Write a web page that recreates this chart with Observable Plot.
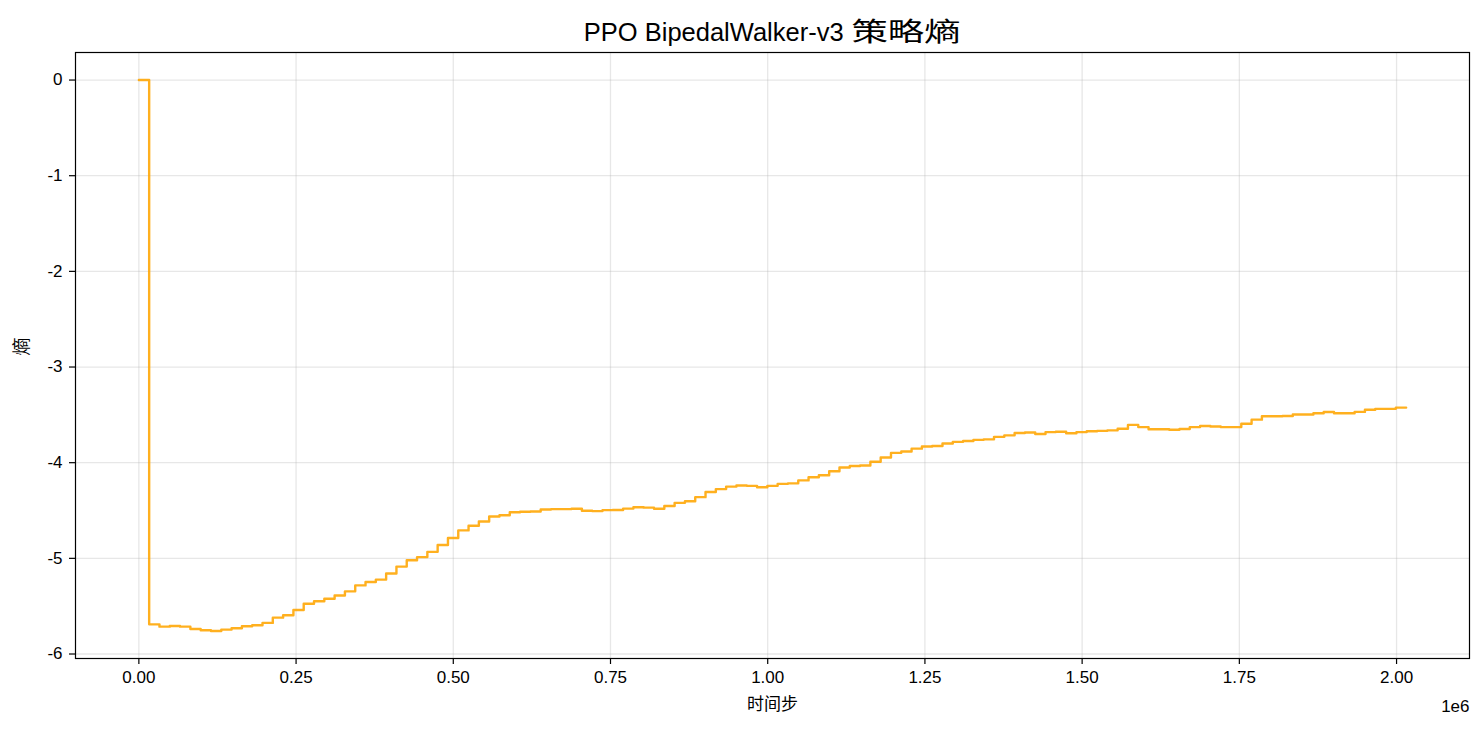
<!DOCTYPE html>
<html>
<head>
<meta charset="utf-8">
<script src="https://cdn.jsdelivr.net/npm/d3@7"></script>
<script src="https://cdn.jsdelivr.net/npm/@observablehq/plot@0.6"></script>
<style>
  html, body { margin: 0; padding: 0; background: #fff; }
  body { width: 1484px; height: 734px; overflow: hidden; font-family: "Liberation Sans", Arial, "Noto Sans CJK SC", sans-serif; }
  #title { box-sizing: border-box; height: 45px; padding: 15px 15px 0 75px; font-size: 25.5px; line-height: 30px; text-align: center; color: #000; white-space: nowrap; }
  #title .cjk { display: inline-block; font-family: "Noto Sans CJK SC", sans-serif; font-size: 26px; transform: scaleX(1.4); transform-origin: center; margin: 0 15.6px 0 23px; }
</style>
</head>
<body>
<div id="title"><span class="latin"></span><span class="cjk"></span></div>
<div id="chart"></div>
<script>
// ---- data ----
const titleLatin = "PPO BipedalWalker-v3";
const titleCJK = "策略熵";
const xLabel = "时间步";
const yLabel = "熵";
const xOffsetText = "1e6";
const rolloutSize = 16384; // timesteps between logged entropy values
// policy entropy per logged rollout (first two logs are 0)
const entropy = [
  0, 0,
  -5.69, -5.714, -5.707, -5.714, -5.738, -5.752, -5.759, -5.745, -5.731, -5.71,
  -5.70, -5.675, -5.62, -5.595, -5.54, -5.475, -5.448, -5.422, -5.388, -5.345,
  -5.283, -5.248, -5.222, -5.158, -5.086, -5.02, -4.987, -4.932, -4.86, -4.787,
  -4.708, -4.66, -4.615, -4.562, -4.55, -4.518, -4.513, -4.51, -4.49, -4.485,
  -4.485, -4.482, -4.503, -4.506, -4.496, -4.495, -4.48, -4.466, -4.47, -4.482,
  -4.452, -4.42, -4.403, -4.36, -4.307, -4.276, -4.25, -4.239, -4.242, -4.256,
  -4.242, -4.221, -4.216, -4.185, -4.152, -4.132, -4.09, -4.05, -4.035, -4.03,
  -3.99, -3.946, -3.897, -3.883, -3.853, -3.83, -3.825, -3.80, -3.782, -3.773,
  -3.761, -3.756, -3.73, -3.714, -3.69, -3.684, -3.70, -3.68, -3.677, -3.692,
  -3.68, -3.672, -3.667, -3.662, -3.645, -3.605, -3.628, -3.65, -3.651, -3.655,
  -3.648, -3.628, -3.616, -3.622, -3.628, -3.628, -3.593, -3.55, -3.515, -3.515,
  -3.512, -3.497, -3.496, -3.483, -3.47, -3.483, -3.483, -3.469, -3.447, -3.437,
  -3.437, -3.424
];
const xTicks = [0, 250000, 500000, 750000, 1000000, 1250000, 1500000, 1750000, 2000000];
const yTicks = [0, -1, -2, -3, -4, -5, -6];

// ---- table ----
const rows = entropy.map((v, i) => ({t: i * rolloutSize, v}));

// matplotlib-like 5% margins
function pad(ext) { const r = ext[1] - ext[0]; return [ext[0] - 0.05 * r, ext[1] + 0.05 * r]; }
const xDomain = pad(d3.extent(rows, d => d.t));
const yDomain = pad(d3.extent(rows, d => d.v));

const fontFamily = '"Liberation Sans", Arial, "Noto Sans CJK SC", sans-serif';
const xFmt = d => (d / 1e6).toFixed(2);
const yFmt = d => String(d);

document.querySelector("#title .latin").textContent = titleLatin;
document.querySelector("#title .cjk").textContent = titleCJK;

const chart = Plot.plot({
  width: 1484,
  height: 689,
  marginLeft: 75,
  marginRight: 15,
  marginTop: 7,
  marginBottom: 76,
  style: {fontFamily, fontSize: "17px", color: "#000", background: "#fff", overflow: "visible"},
  x: {domain: xDomain, label: null},
  y: {domain: yDomain, label: null},
  marks: [
    Plot.gridX(xTicks, {stroke: "#b0b0b0", strokeOpacity: 0.3, strokeWidth: 1.3}),
    Plot.gridY(yTicks, {stroke: "#b0b0b0", strokeOpacity: 0.3, strokeWidth: 1.3}),
    Plot.line(rows, {x: "t", y: "v", curve: "step-before", stroke: "#ffa500", strokeOpacity: 0.88, strokeWidth: 2.4}),
    Plot.frame({stroke: "#000", strokeWidth: 1.2}),
    Plot.axisX(xTicks, {tickSize: 6, tickPadding: 6, tickFormat: xFmt, label: null, stroke: "#000", strokeWidth: 1.2, fontSize: 17}),
    Plot.axisY(yTicks, {tickSize: 6, tickPadding: 7, tickFormat: yFmt, label: null, stroke: "#000", strokeWidth: 1.2, fontSize: 17}),
    Plot.text([xLabel], {text: d => d, frameAnchor: "bottom", dy: 51, fontSize: 17, fontFamily: '"Noto Sans CJK SC", sans-serif', letterSpacing: "3px"}),
    Plot.text([xOffsetText], {text: d => d, frameAnchor: "bottom-right", dy: 53, textAnchor: "end", fontSize: 17}),
    Plot.text([yLabel], {text: d => d, frameAnchor: "left", dx: -53, rotate: -90, fontSize: 18, fontFamily: '"Noto Sans CJK SC", sans-serif'})
  ]
});
document.getElementById("chart").appendChild(chart);
</script>
</body>
</html>
